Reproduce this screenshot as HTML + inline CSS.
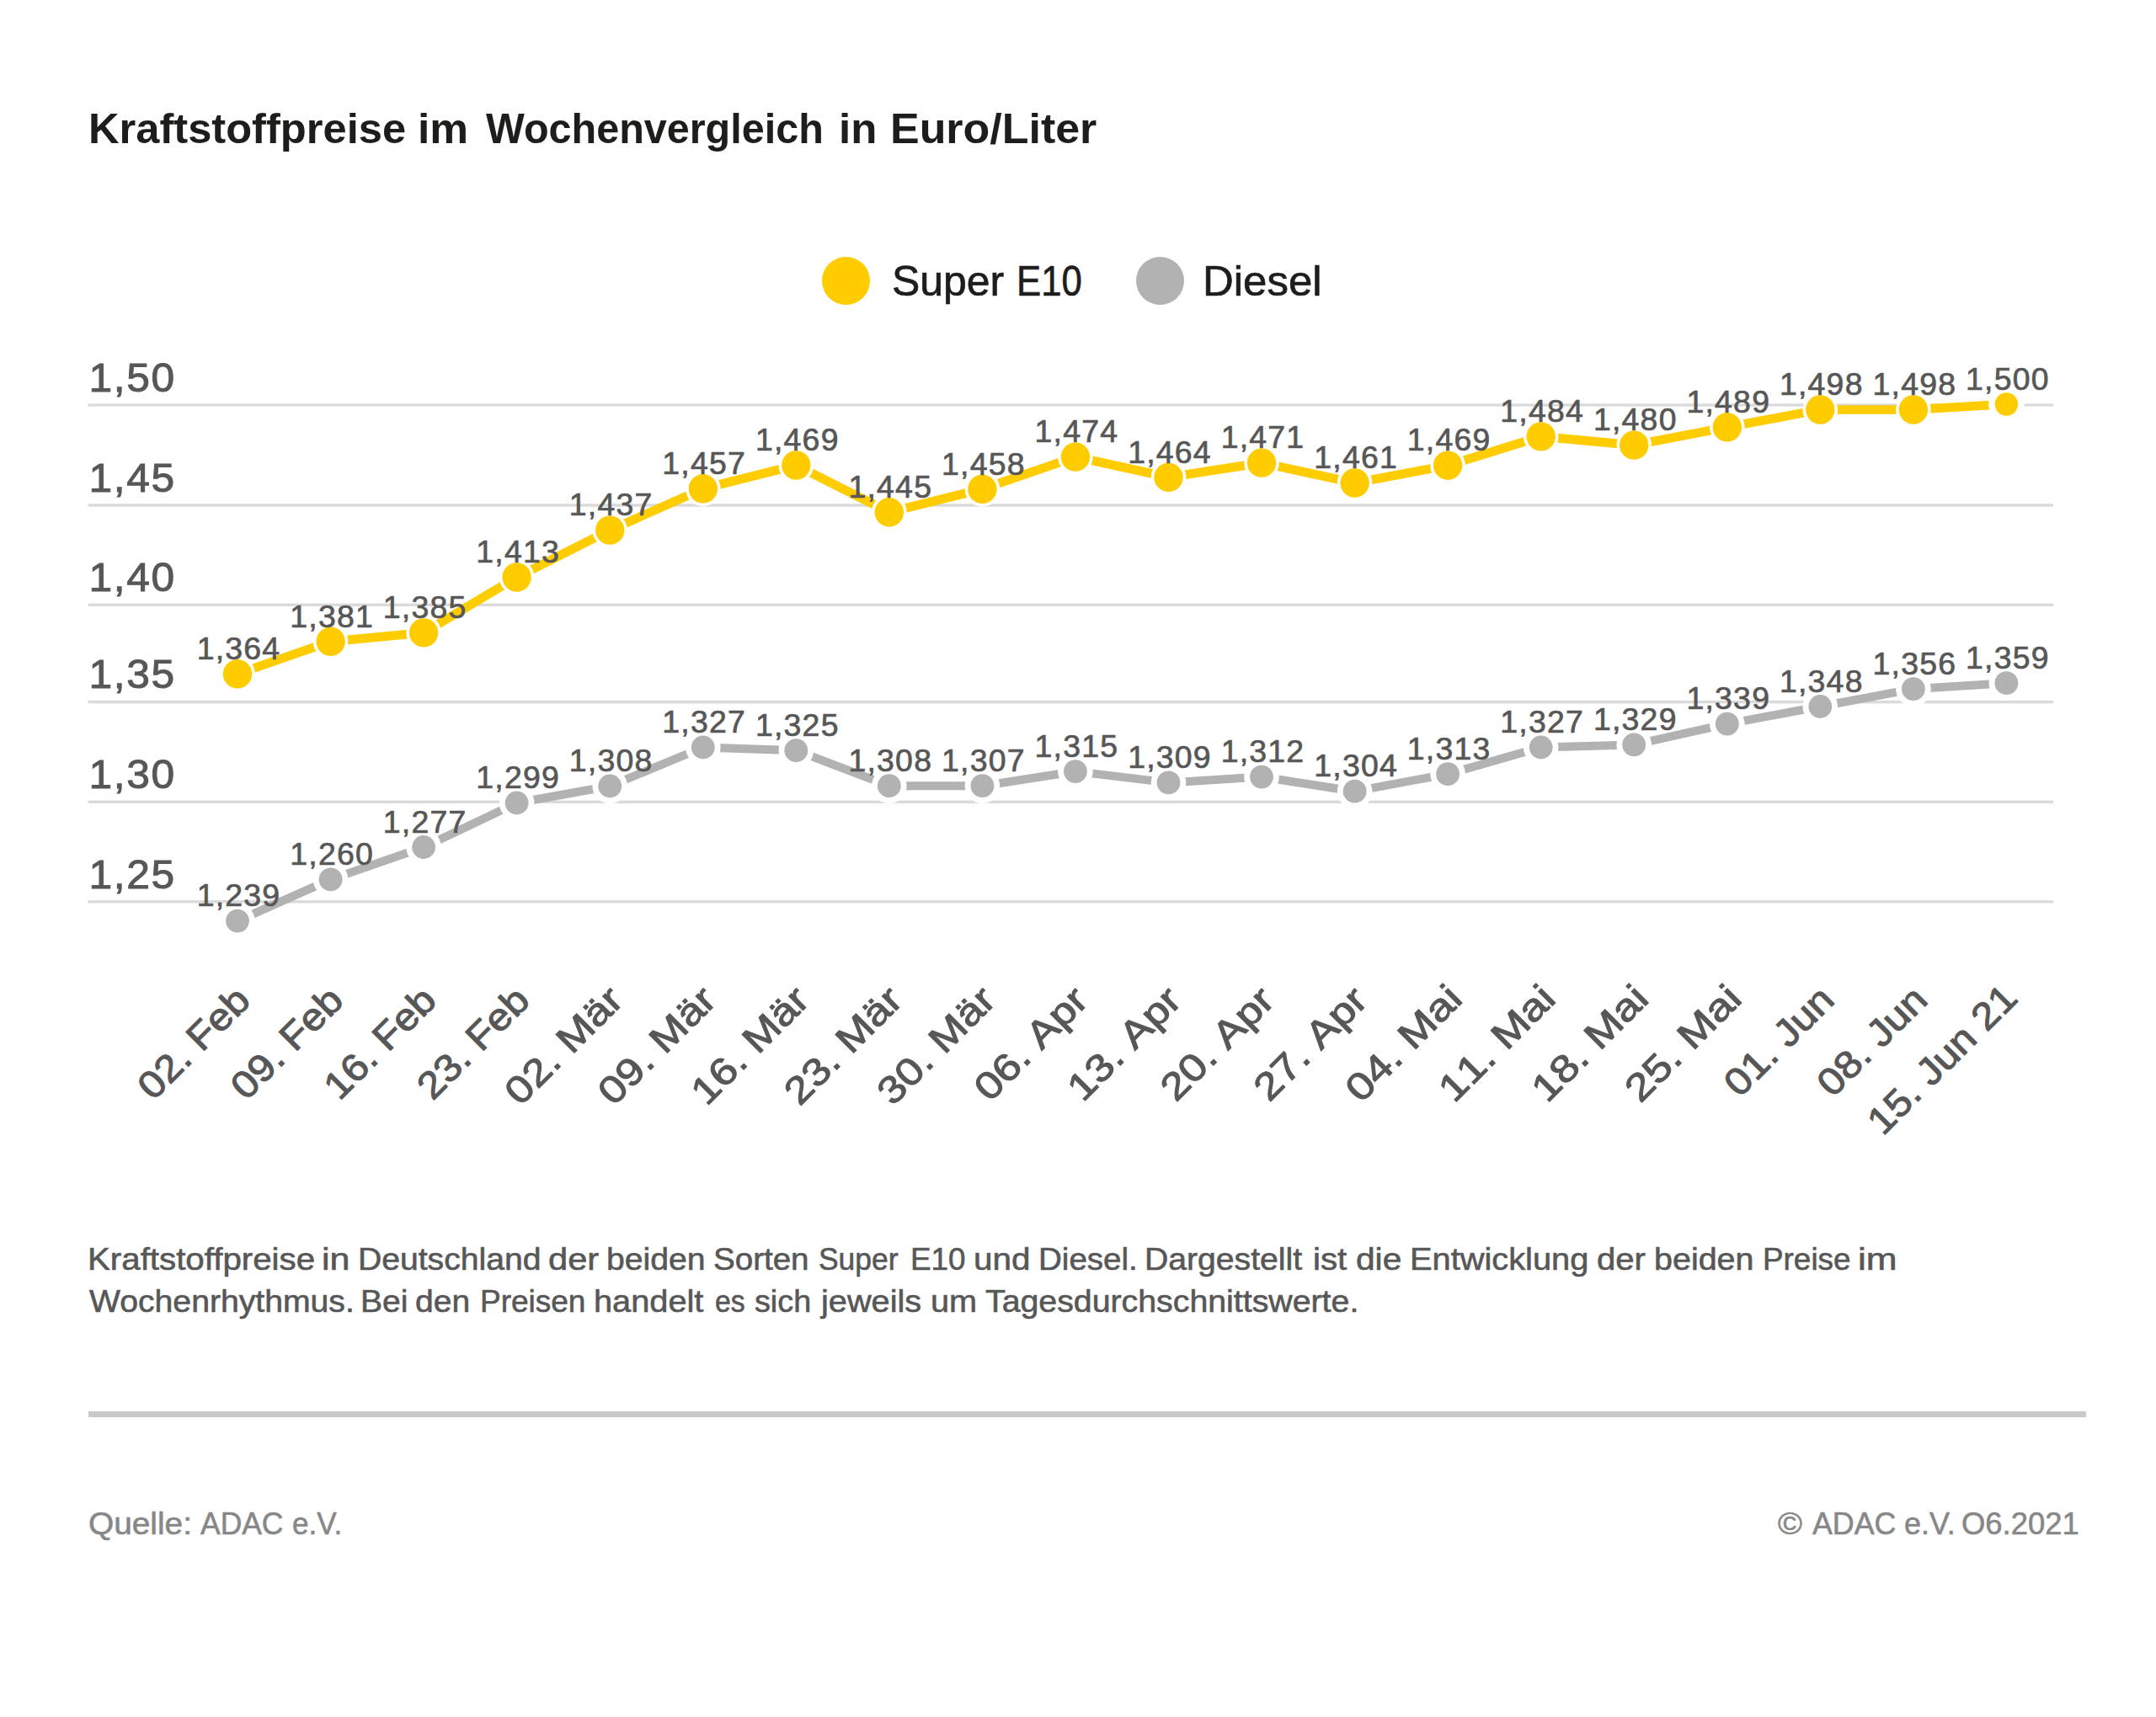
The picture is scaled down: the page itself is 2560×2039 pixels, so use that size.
<!DOCTYPE html>
<html lang="de"><head><meta charset="utf-8"><title>Kraftstoffpreise im Wochenvergleich</title>
<style>
html,body{margin:0;padding:0;background:#fff;}
body{width:2560px;height:2039px;position:relative;overflow:hidden;font-family:"Liberation Sans",sans-serif;}
.w{position:absolute;white-space:nowrap;line-height:1;transform-origin:0 0;display:block;}
.t{font-size:49.2px;font-weight:bold;color:#1d1d1b;}
.l{font-size:50px;color:#1d1d1b;-webkit-text-stroke:0.7px #1d1d1b;}
.d{font-size:36.3px;color:#575757;-webkit-text-stroke:0.6px #575757;}
.f{font-size:37.6px;color:#878787;-webkit-text-stroke:0.6px #878787;}
.dot{position:absolute;border-radius:50%;width:57px;height:57px;top:304.5px;}
#rule{position:absolute;left:104.5px;top:1676px;width:2372.5px;height:6.5px;background:#c9c9c9;}
</style></head><body>
<svg width="2560" height="2039" viewBox="0 0 2560 2039" style="position:absolute;left:0;top:0" font-family="'Liberation Sans', sans-serif">
<rect x="104.5" y="479.3" width="2333.5" height="3.4" fill="#DADADA"/>
<rect x="104.5" y="598.3" width="2333.5" height="3.4" fill="#DADADA"/>
<rect x="104.5" y="716.6" width="2333.5" height="3.4" fill="#DADADA"/>
<rect x="104.5" y="831.9" width="2333.5" height="3.4" fill="#DADADA"/>
<rect x="104.5" y="950.6" width="2333.5" height="3.4" fill="#DADADA"/>
<rect x="104.5" y="1069.1" width="2333.5" height="3.4" fill="#DADADA"/>
<text transform="translate(105.5,464.7) scale(1.015,1)" stroke="#575757" stroke-width="1.0" font-size="49" letter-spacing="1.6" fill="#575757">1,50</text>
<text transform="translate(105.5,583.7) scale(1.015,1)" stroke="#575757" stroke-width="1.0" font-size="49" letter-spacing="1.6" fill="#575757">1,45</text>
<text transform="translate(105.5,702.0) scale(1.015,1)" stroke="#575757" stroke-width="1.0" font-size="49" letter-spacing="1.6" fill="#575757">1,40</text>
<text transform="translate(105.5,817.3) scale(1.015,1)" stroke="#575757" stroke-width="1.0" font-size="49" letter-spacing="1.6" fill="#575757">1,35</text>
<text transform="translate(105.5,936.0) scale(1.015,1)" stroke="#575757" stroke-width="1.0" font-size="49" letter-spacing="1.6" fill="#575757">1,30</text>
<text transform="translate(105.5,1054.5) scale(1.015,1)" stroke="#575757" stroke-width="1.0" font-size="49" letter-spacing="1.6" fill="#575757">1,25</text>
<polyline points="282.0,1093.6 392.6,1044.4 503.1,1006.0 613.6,953.5 724.2,933.5 834.8,887.5 945.3,891.2 1055.8,933.2 1166.4,933.2 1276.9,916.1 1387.5,929.4 1498.0,922.6 1608.6,939.7 1719.1,919.2 1829.7,887.5 1940.2,884.4 2050.8,859.7 2161.3,839.0 2271.9,818.2 2382.4,811.2" fill="none" stroke="#B2B2B2" stroke-width="10.0" stroke-linejoin="round"/>
<polyline points="282.0,800.3 392.6,761.8 503.1,751.4 613.6,685.5 724.2,629.6 834.8,580.3 945.3,552.5 1055.8,608.3 1166.4,580.8 1276.9,542.6 1387.5,566.8 1498.0,549.6 1608.6,573.5 1719.1,552.7 1829.7,518.4 1940.2,528.6 2050.8,507.3 2161.3,486.5 2271.9,486.5 2382.4,480.0" fill="none" stroke="#FFCC00" stroke-width="10.7" stroke-linejoin="round"/>
<circle cx="282.0" cy="1093.6" r="20.8" fill="#fff"/><circle cx="282.0" cy="1093.6" r="13.9" fill="#B2B2B2"/>
<circle cx="392.6" cy="1044.4" r="20.8" fill="#fff"/><circle cx="392.6" cy="1044.4" r="13.9" fill="#B2B2B2"/>
<circle cx="503.1" cy="1006.0" r="20.8" fill="#fff"/><circle cx="503.1" cy="1006.0" r="13.9" fill="#B2B2B2"/>
<circle cx="613.6" cy="953.5" r="20.8" fill="#fff"/><circle cx="613.6" cy="953.5" r="13.9" fill="#B2B2B2"/>
<circle cx="724.2" cy="933.5" r="20.8" fill="#fff"/><circle cx="724.2" cy="933.5" r="13.9" fill="#B2B2B2"/>
<circle cx="834.8" cy="887.5" r="20.8" fill="#fff"/><circle cx="834.8" cy="887.5" r="13.9" fill="#B2B2B2"/>
<circle cx="945.3" cy="891.2" r="20.8" fill="#fff"/><circle cx="945.3" cy="891.2" r="13.9" fill="#B2B2B2"/>
<circle cx="1055.8" cy="933.2" r="20.8" fill="#fff"/><circle cx="1055.8" cy="933.2" r="13.9" fill="#B2B2B2"/>
<circle cx="1166.4" cy="933.2" r="20.8" fill="#fff"/><circle cx="1166.4" cy="933.2" r="13.9" fill="#B2B2B2"/>
<circle cx="1276.9" cy="916.1" r="20.8" fill="#fff"/><circle cx="1276.9" cy="916.1" r="13.9" fill="#B2B2B2"/>
<circle cx="1387.5" cy="929.4" r="20.8" fill="#fff"/><circle cx="1387.5" cy="929.4" r="13.9" fill="#B2B2B2"/>
<circle cx="1498.0" cy="922.6" r="20.8" fill="#fff"/><circle cx="1498.0" cy="922.6" r="13.9" fill="#B2B2B2"/>
<circle cx="1608.6" cy="939.7" r="20.8" fill="#fff"/><circle cx="1608.6" cy="939.7" r="13.9" fill="#B2B2B2"/>
<circle cx="1719.1" cy="919.2" r="20.8" fill="#fff"/><circle cx="1719.1" cy="919.2" r="13.9" fill="#B2B2B2"/>
<circle cx="1829.7" cy="887.5" r="20.8" fill="#fff"/><circle cx="1829.7" cy="887.5" r="13.9" fill="#B2B2B2"/>
<circle cx="1940.2" cy="884.4" r="20.8" fill="#fff"/><circle cx="1940.2" cy="884.4" r="13.9" fill="#B2B2B2"/>
<circle cx="2050.8" cy="859.7" r="20.8" fill="#fff"/><circle cx="2050.8" cy="859.7" r="13.9" fill="#B2B2B2"/>
<circle cx="2161.3" cy="839.0" r="20.8" fill="#fff"/><circle cx="2161.3" cy="839.0" r="13.9" fill="#B2B2B2"/>
<circle cx="2271.9" cy="818.2" r="20.8" fill="#fff"/><circle cx="2271.9" cy="818.2" r="13.9" fill="#B2B2B2"/>
<circle cx="2382.4" cy="811.2" r="20.8" fill="#fff"/><circle cx="2382.4" cy="811.2" r="13.9" fill="#B2B2B2"/>
<circle cx="282.0" cy="800.3" r="20.8" fill="#fff"/><circle cx="282.0" cy="800.3" r="17.2" fill="#FFCC00"/>
<circle cx="392.6" cy="761.8" r="20.8" fill="#fff"/><circle cx="392.6" cy="761.8" r="17.2" fill="#FFCC00"/>
<circle cx="503.1" cy="751.4" r="20.8" fill="#fff"/><circle cx="503.1" cy="751.4" r="17.2" fill="#FFCC00"/>
<circle cx="613.6" cy="685.5" r="20.8" fill="#fff"/><circle cx="613.6" cy="685.5" r="17.2" fill="#FFCC00"/>
<circle cx="724.2" cy="629.6" r="20.8" fill="#fff"/><circle cx="724.2" cy="629.6" r="17.2" fill="#FFCC00"/>
<circle cx="834.8" cy="580.3" r="20.8" fill="#fff"/><circle cx="834.8" cy="580.3" r="17.2" fill="#FFCC00"/>
<circle cx="945.3" cy="552.5" r="20.8" fill="#fff"/><circle cx="945.3" cy="552.5" r="17.2" fill="#FFCC00"/>
<circle cx="1055.8" cy="608.3" r="20.8" fill="#fff"/><circle cx="1055.8" cy="608.3" r="17.2" fill="#FFCC00"/>
<circle cx="1166.4" cy="580.8" r="20.8" fill="#fff"/><circle cx="1166.4" cy="580.8" r="17.2" fill="#FFCC00"/>
<circle cx="1276.9" cy="542.6" r="20.8" fill="#fff"/><circle cx="1276.9" cy="542.6" r="17.2" fill="#FFCC00"/>
<circle cx="1387.5" cy="566.8" r="20.8" fill="#fff"/><circle cx="1387.5" cy="566.8" r="17.2" fill="#FFCC00"/>
<circle cx="1498.0" cy="549.6" r="20.8" fill="#fff"/><circle cx="1498.0" cy="549.6" r="17.2" fill="#FFCC00"/>
<circle cx="1608.6" cy="573.5" r="20.8" fill="#fff"/><circle cx="1608.6" cy="573.5" r="17.2" fill="#FFCC00"/>
<circle cx="1719.1" cy="552.7" r="20.8" fill="#fff"/><circle cx="1719.1" cy="552.7" r="17.2" fill="#FFCC00"/>
<circle cx="1829.7" cy="518.4" r="20.8" fill="#fff"/><circle cx="1829.7" cy="518.4" r="17.2" fill="#FFCC00"/>
<circle cx="1940.2" cy="528.6" r="20.8" fill="#fff"/><circle cx="1940.2" cy="528.6" r="17.2" fill="#FFCC00"/>
<circle cx="2050.8" cy="507.3" r="20.8" fill="#fff"/><circle cx="2050.8" cy="507.3" r="17.2" fill="#FFCC00"/>
<circle cx="2161.3" cy="486.5" r="20.8" fill="#fff"/><circle cx="2161.3" cy="486.5" r="17.2" fill="#FFCC00"/>
<circle cx="2271.9" cy="486.5" r="20.8" fill="#fff"/><circle cx="2271.9" cy="486.5" r="17.2" fill="#FFCC00"/>
<circle cx="2382.4" cy="480.0" r="21.3" fill="#fff"/><circle cx="2382.4" cy="480.0" r="13.7" fill="#FFCC00"/>
<text transform="translate(283.5,1076.3) scale(1.03,1)" text-anchor="middle" stroke="#575757" stroke-width="0.7" font-size="36.3" letter-spacing="1.2" fill="#575757">1,239</text>
<text transform="translate(394.1,1027.1) scale(1.03,1)" text-anchor="middle" stroke="#575757" stroke-width="0.7" font-size="36.3" letter-spacing="1.2" fill="#575757">1,260</text>
<text transform="translate(504.6,988.7) scale(1.03,1)" text-anchor="middle" stroke="#575757" stroke-width="0.7" font-size="36.3" letter-spacing="1.2" fill="#575757">1,277</text>
<text transform="translate(615.1,936.2) scale(1.03,1)" text-anchor="middle" stroke="#575757" stroke-width="0.7" font-size="36.3" letter-spacing="1.2" fill="#575757">1,299</text>
<text transform="translate(725.7,916.2) scale(1.03,1)" text-anchor="middle" stroke="#575757" stroke-width="0.7" font-size="36.3" letter-spacing="1.2" fill="#575757">1,308</text>
<text transform="translate(836.2,870.2) scale(1.03,1)" text-anchor="middle" stroke="#575757" stroke-width="0.7" font-size="36.3" letter-spacing="1.2" fill="#575757">1,327</text>
<text transform="translate(946.8,873.9) scale(1.03,1)" text-anchor="middle" stroke="#575757" stroke-width="0.7" font-size="36.3" letter-spacing="1.2" fill="#575757">1,325</text>
<text transform="translate(1057.3,915.9) scale(1.03,1)" text-anchor="middle" stroke="#575757" stroke-width="0.7" font-size="36.3" letter-spacing="1.2" fill="#575757">1,308</text>
<text transform="translate(1167.9,915.9) scale(1.03,1)" text-anchor="middle" stroke="#575757" stroke-width="0.7" font-size="36.3" letter-spacing="1.2" fill="#575757">1,307</text>
<text transform="translate(1278.4,898.8) scale(1.03,1)" text-anchor="middle" stroke="#575757" stroke-width="0.7" font-size="36.3" letter-spacing="1.2" fill="#575757">1,315</text>
<text transform="translate(1389.0,912.1) scale(1.03,1)" text-anchor="middle" stroke="#575757" stroke-width="0.7" font-size="36.3" letter-spacing="1.2" fill="#575757">1,309</text>
<text transform="translate(1499.5,905.3) scale(1.03,1)" text-anchor="middle" stroke="#575757" stroke-width="0.7" font-size="36.3" letter-spacing="1.2" fill="#575757">1,312</text>
<text transform="translate(1610.1,922.4) scale(1.03,1)" text-anchor="middle" stroke="#575757" stroke-width="0.7" font-size="36.3" letter-spacing="1.2" fill="#575757">1,304</text>
<text transform="translate(1720.6,901.9) scale(1.03,1)" text-anchor="middle" stroke="#575757" stroke-width="0.7" font-size="36.3" letter-spacing="1.2" fill="#575757">1,313</text>
<text transform="translate(1831.2,870.2) scale(1.03,1)" text-anchor="middle" stroke="#575757" stroke-width="0.7" font-size="36.3" letter-spacing="1.2" fill="#575757">1,327</text>
<text transform="translate(1941.8,867.1) scale(1.03,1)" text-anchor="middle" stroke="#575757" stroke-width="0.7" font-size="36.3" letter-spacing="1.2" fill="#575757">1,329</text>
<text transform="translate(2052.3,842.4) scale(1.03,1)" text-anchor="middle" stroke="#575757" stroke-width="0.7" font-size="36.3" letter-spacing="1.2" fill="#575757">1,339</text>
<text transform="translate(2162.8,821.7) scale(1.03,1)" text-anchor="middle" stroke="#575757" stroke-width="0.7" font-size="36.3" letter-spacing="1.2" fill="#575757">1,348</text>
<text transform="translate(2273.4,800.9) scale(1.03,1)" text-anchor="middle" stroke="#575757" stroke-width="0.7" font-size="36.3" letter-spacing="1.2" fill="#575757">1,356</text>
<text transform="translate(2383.9,793.9) scale(1.03,1)" text-anchor="middle" stroke="#575757" stroke-width="0.7" font-size="36.3" letter-spacing="1.2" fill="#575757">1,359</text>
<text transform="translate(283.5,783.0) scale(1.03,1)" text-anchor="middle" stroke="#575757" stroke-width="0.7" font-size="36.3" letter-spacing="1.2" fill="#575757">1,364</text>
<text transform="translate(394.1,744.5) scale(1.03,1)" text-anchor="middle" stroke="#575757" stroke-width="0.7" font-size="36.3" letter-spacing="1.2" fill="#575757">1,381</text>
<text transform="translate(504.6,734.1) scale(1.03,1)" text-anchor="middle" stroke="#575757" stroke-width="0.7" font-size="36.3" letter-spacing="1.2" fill="#575757">1,385</text>
<text transform="translate(615.1,668.2) scale(1.03,1)" text-anchor="middle" stroke="#575757" stroke-width="0.7" font-size="36.3" letter-spacing="1.2" fill="#575757">1,413</text>
<text transform="translate(725.7,612.3) scale(1.03,1)" text-anchor="middle" stroke="#575757" stroke-width="0.7" font-size="36.3" letter-spacing="1.2" fill="#575757">1,437</text>
<text transform="translate(836.2,563.0) scale(1.03,1)" text-anchor="middle" stroke="#575757" stroke-width="0.7" font-size="36.3" letter-spacing="1.2" fill="#575757">1,457</text>
<text transform="translate(946.8,535.2) scale(1.03,1)" text-anchor="middle" stroke="#575757" stroke-width="0.7" font-size="36.3" letter-spacing="1.2" fill="#575757">1,469</text>
<text transform="translate(1057.3,591.0) scale(1.03,1)" text-anchor="middle" stroke="#575757" stroke-width="0.7" font-size="36.3" letter-spacing="1.2" fill="#575757">1,445</text>
<text transform="translate(1167.9,563.5) scale(1.03,1)" text-anchor="middle" stroke="#575757" stroke-width="0.7" font-size="36.3" letter-spacing="1.2" fill="#575757">1,458</text>
<text transform="translate(1278.4,525.3) scale(1.03,1)" text-anchor="middle" stroke="#575757" stroke-width="0.7" font-size="36.3" letter-spacing="1.2" fill="#575757">1,474</text>
<text transform="translate(1389.0,549.5) scale(1.03,1)" text-anchor="middle" stroke="#575757" stroke-width="0.7" font-size="36.3" letter-spacing="1.2" fill="#575757">1,464</text>
<text transform="translate(1499.5,532.3) scale(1.03,1)" text-anchor="middle" stroke="#575757" stroke-width="0.7" font-size="36.3" letter-spacing="1.2" fill="#575757">1,471</text>
<text transform="translate(1610.1,556.2) scale(1.03,1)" text-anchor="middle" stroke="#575757" stroke-width="0.7" font-size="36.3" letter-spacing="1.2" fill="#575757">1,461</text>
<text transform="translate(1720.6,535.4) scale(1.03,1)" text-anchor="middle" stroke="#575757" stroke-width="0.7" font-size="36.3" letter-spacing="1.2" fill="#575757">1,469</text>
<text transform="translate(1831.2,501.1) scale(1.03,1)" text-anchor="middle" stroke="#575757" stroke-width="0.7" font-size="36.3" letter-spacing="1.2" fill="#575757">1,484</text>
<text transform="translate(1941.8,511.3) scale(1.03,1)" text-anchor="middle" stroke="#575757" stroke-width="0.7" font-size="36.3" letter-spacing="1.2" fill="#575757">1,480</text>
<text transform="translate(2052.3,490.0) scale(1.03,1)" text-anchor="middle" stroke="#575757" stroke-width="0.7" font-size="36.3" letter-spacing="1.2" fill="#575757">1,489</text>
<text transform="translate(2162.8,469.2) scale(1.03,1)" text-anchor="middle" stroke="#575757" stroke-width="0.7" font-size="36.3" letter-spacing="1.2" fill="#575757">1,498</text>
<text transform="translate(2273.4,469.2) scale(1.03,1)" text-anchor="middle" stroke="#575757" stroke-width="0.7" font-size="36.3" letter-spacing="1.2" fill="#575757">1,498</text>
<text transform="translate(2383.9,462.7) scale(1.03,1)" text-anchor="middle" stroke="#575757" stroke-width="0.7" font-size="36.3" letter-spacing="1.2" fill="#575757">1,500</text>
<text transform="translate(182.0,1308.0) rotate(-45)" textLength="166.1" lengthAdjust="spacingAndGlyphs" style="font-kerning:none" stroke="#575757" stroke-width="1.1" font-size="45" fill="#575757">02. Feb</text>
<text transform="translate(292.6,1308.0) rotate(-45)" textLength="166.1" lengthAdjust="spacingAndGlyphs" style="font-kerning:none" stroke="#575757" stroke-width="1.1" font-size="45" fill="#575757">09. Feb</text>
<text transform="translate(403.1,1308.0) rotate(-45)" textLength="166.1" lengthAdjust="spacingAndGlyphs" style="font-kerning:none" stroke="#575757" stroke-width="1.1" font-size="45" fill="#575757">16. Feb</text>
<text transform="translate(513.7,1308.0) rotate(-45)" textLength="166.1" lengthAdjust="spacingAndGlyphs" style="font-kerning:none" stroke="#575757" stroke-width="1.1" font-size="45" fill="#575757">23. Feb</text>
<text transform="translate(617.8,1314.4) rotate(-45)" textLength="175.9" lengthAdjust="spacingAndGlyphs" style="font-kerning:none" stroke="#575757" stroke-width="1.1" font-size="45" fill="#575757">02. Mär</text>
<text transform="translate(728.4,1314.4) rotate(-45)" textLength="175.9" lengthAdjust="spacingAndGlyphs" style="font-kerning:none" stroke="#575757" stroke-width="1.1" font-size="45" fill="#575757">09. Mär</text>
<text transform="translate(838.9,1314.4) rotate(-45)" textLength="175.9" lengthAdjust="spacingAndGlyphs" style="font-kerning:none" stroke="#575757" stroke-width="1.1" font-size="45" fill="#575757">16. Mär</text>
<text transform="translate(949.5,1314.4) rotate(-45)" textLength="175.9" lengthAdjust="spacingAndGlyphs" style="font-kerning:none" stroke="#575757" stroke-width="1.1" font-size="45" fill="#575757">23. Mär</text>
<text transform="translate(1060.0,1314.4) rotate(-45)" textLength="175.9" lengthAdjust="spacingAndGlyphs" style="font-kerning:none" stroke="#575757" stroke-width="1.1" font-size="45" fill="#575757">30. Mär</text>
<text transform="translate(1175.2,1309.7) rotate(-45)" textLength="168.6" lengthAdjust="spacingAndGlyphs" style="font-kerning:none" stroke="#575757" stroke-width="1.1" font-size="45" fill="#575757">06. Apr</text>
<text transform="translate(1285.8,1309.7) rotate(-45)" textLength="168.6" lengthAdjust="spacingAndGlyphs" style="font-kerning:none" stroke="#575757" stroke-width="1.1" font-size="45" fill="#575757">13. Apr</text>
<text transform="translate(1396.3,1309.7) rotate(-45)" textLength="168.6" lengthAdjust="spacingAndGlyphs" style="font-kerning:none" stroke="#575757" stroke-width="1.1" font-size="45" fill="#575757">20. Apr</text>
<text transform="translate(1506.9,1309.7) rotate(-45)" textLength="168.6" lengthAdjust="spacingAndGlyphs" style="font-kerning:none" stroke="#575757" stroke-width="1.1" font-size="45" fill="#575757">27. Apr</text>
<text transform="translate(1616.0,1311.1) rotate(-45)" textLength="173.4" lengthAdjust="spacingAndGlyphs" style="font-kerning:none" stroke="#575757" stroke-width="1.1" font-size="45" fill="#575757">04. Mai</text>
<text transform="translate(1726.6,1311.1) rotate(-45)" textLength="173.4" lengthAdjust="spacingAndGlyphs" style="font-kerning:none" stroke="#575757" stroke-width="1.1" font-size="45" fill="#575757">11. Mai</text>
<text transform="translate(1837.1,1311.1) rotate(-45)" textLength="173.4" lengthAdjust="spacingAndGlyphs" style="font-kerning:none" stroke="#575757" stroke-width="1.1" font-size="45" fill="#575757">18. Mai</text>
<text transform="translate(1947.7,1311.1) rotate(-45)" textLength="173.4" lengthAdjust="spacingAndGlyphs" style="font-kerning:none" stroke="#575757" stroke-width="1.1" font-size="45" fill="#575757">25. Mai</text>
<text transform="translate(2065.5,1304.5) rotate(-45)" textLength="162.4" lengthAdjust="spacingAndGlyphs" style="font-kerning:none" stroke="#575757" stroke-width="1.1" font-size="45" fill="#575757">01. Jun</text>
<text transform="translate(2176.1,1304.5) rotate(-45)" textLength="162.4" lengthAdjust="spacingAndGlyphs" style="font-kerning:none" stroke="#575757" stroke-width="1.1" font-size="45" fill="#575757">08. Jun</text>
<text transform="translate(2235.7,1349.7) rotate(-45)" textLength="229.1" lengthAdjust="spacingAndGlyphs" style="font-kerning:none" stroke="#575757" stroke-width="1.1" font-size="45" fill="#575757">15. Jun 21</text>
</svg>
<h1 style="margin:0;font:inherit">
<span class="w t" style="left:105.05px;top:127.90px;transform:scaleX(1.0295)">Kraftstoffpreise</span>
<span class="w t" style="left:495.94px;top:127.90px;transform:scaleX(1.0471)">im</span>
<span class="w t" style="left:576.80px;top:127.90px;transform:scaleX(0.9862)">Wochenvergleich</span>
<span class="w t" style="left:996.17px;top:127.90px;transform:scaleX(1.0362)">in</span>
<span class="w t" style="left:1057.17px;top:127.90px;transform:scaleX(1.0559)">Euro/Liter</span>
</h1>
<div class="dot" style="left:976px;background:#FFCC00"></div>
<div class="dot" style="left:1349px;background:#B2B2B2"></div>
<span class="w l" style="left:1058.76px;top:308.50px;transform:scaleX(0.9973)">Super</span>
<span class="w l" style="left:1206.51px;top:308.50px;transform:scaleX(0.8735)">E10</span>
<span class="w l" style="left:1427.92px;top:308.50px;transform:scaleX(1.0190)">Diesel</span>
<p style="margin:0">
<span class="w d" style="left:103.97px;top:1478.00px;transform:scaleX(1.1095)">Kraftstoffpreise</span>
<span class="w d" style="left:382.24px;top:1478.00px;transform:scaleX(1.1830)">in</span>
<span class="w d" style="left:425.37px;top:1478.00px;transform:scaleX(1.0774)">Deutschland</span>
<span class="w d" style="left:650.78px;top:1478.00px;transform:scaleX(1.1463)">der</span>
<span class="w d" style="left:720.17px;top:1478.00px;transform:scaleX(1.0785)">beiden</span>
<span class="w d" style="left:847.24px;top:1478.00px;transform:scaleX(1.0618)">Sorten</span>
<span class="w d" style="left:972.09px;top:1478.00px;transform:scaleX(0.9757)">Super</span>
<span class="w d" style="left:1081.16px;top:1478.00px;transform:scaleX(1.0124)">E10</span>
<span class="w d" style="left:1156.20px;top:1478.00px;transform:scaleX(1.1125)">und</span>
<span class="w d" style="left:1233.42px;top:1478.00px;transform:scaleX(1.0616)">Diesel.</span>
<span class="w d" style="left:1358.86px;top:1478.00px;transform:scaleX(1.0784)">Dargestellt</span>
<span class="w d" style="left:1558.53px;top:1478.00px;transform:scaleX(1.1075)">ist</span>
<span class="w d" style="left:1609.72px;top:1478.00px;transform:scaleX(1.1204)">die</span>
<span class="w d" style="left:1674.01px;top:1478.00px;transform:scaleX(1.0964)">Entwicklung</span>
<span class="w d" style="left:1895.54px;top:1478.00px;transform:scaleX(1.1045)">der</span>
<span class="w d" style="left:1963.85px;top:1478.00px;transform:scaleX(1.0871)">beiden</span>
<span class="w d" style="left:2092.65px;top:1478.00px;transform:scaleX(1.0158)">Preise</span>
<span class="w d" style="left:2206.26px;top:1478.00px;transform:scaleX(1.2179)">im</span>
<span class="w d" style="left:106.23px;top:1527.60px;transform:scaleX(1.0786)">Wochenrhythmus.</span>
<span class="w d" style="left:427.97px;top:1527.60px;transform:scaleX(1.0766)">Bei</span>
<span class="w d" style="left:493.19px;top:1527.60px;transform:scaleX(1.0749)">den</span>
<span class="w d" style="left:570.14px;top:1527.60px;transform:scaleX(1.0191)">Preisen</span>
<span class="w d" style="left:705.26px;top:1527.60px;transform:scaleX(1.0951)">handelt</span>
<span class="w d" style="left:848.51px;top:1527.60px;transform:scaleX(0.9296)">es</span>
<span class="w d" style="left:896.06px;top:1527.60px;transform:scaleX(1.0400)">sich</span>
<span class="w d" style="left:974.89px;top:1527.60px;transform:scaleX(1.0940)">jeweils</span>
<span class="w d" style="left:1105.04px;top:1527.60px;transform:scaleX(1.0929)">um</span>
<span class="w d" style="left:1170.39px;top:1527.60px;transform:scaleX(1.0824)">Tagesdurchschnittswerte.</span>
</p>
<div id="rule"></div>
<span class="w f" style="left:104.89px;top:1790.90px;transform:scaleX(1.0325)">Quelle:</span>
<span class="w f" style="left:238.36px;top:1790.90px;transform:scaleX(0.9431)">ADAC</span>
<span class="w f" style="left:347.10px;top:1790.90px;transform:scaleX(0.9333)">e.V.</span>
<span class="w f" style="left:2111.48px;top:1791.00px;transform:scaleX(1.0453)">©</span>
<span class="w f" style="left:2151.76px;top:1791.00px;transform:scaleX(0.9518)">ADAC</span>
<span class="w f" style="left:2261.06px;top:1791.00px;transform:scaleX(0.9590)">e.V.</span>
<span class="w f" style="left:2329.20px;top:1791.00px;transform:scaleX(0.9687)">O6.2021</span>
</body></html>
